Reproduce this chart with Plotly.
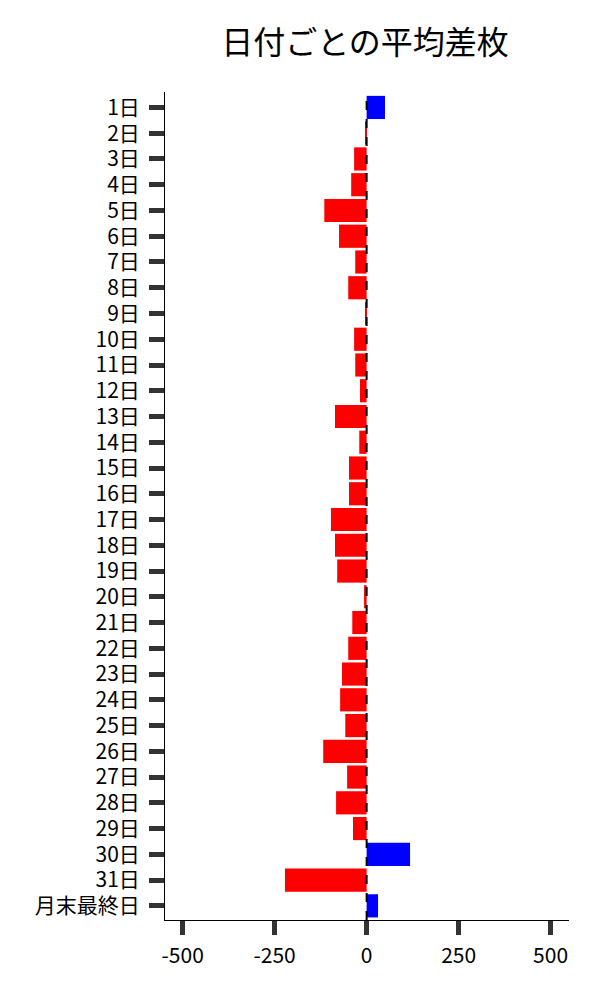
import plotly.graph_objects as go

days = [f"{i}日" for i in range(1, 32)] + ["月末最終日"]
avg_diff = [50, -2, -34, -42, -115, -75, -31, -50, -3, -34,
            -31, -18, -86, -20, -48, -48, -97, -86, -80, -7,
            -39, -50, -67, -72, -58, -118, -53, -83, -37, 118,
            -222, 31]
x_ticks = [-500, -250, 0, 250, 500]

colors = ["#0000ff" if v > 0 else "#ff0000" for v in avg_diff]

fig = go.Figure(go.Bar(
    x=avg_diff, y=days, orientation="h",
    marker=dict(color=colors, line=dict(width=0)),
    showlegend=False,
))

# dashed zero line
fig.add_shape(type="line", xref="x", yref="paper", x0=0, x1=0, y0=0, y1=1,
              line=dict(color="black", width=2, dash="dash"), layer="above")

fig.update_layout(
    width=600, height=1000,
    title=dict(text="日付ごとの平均差枚", x=0.595, xanchor="center",
               y=0.965, yanchor="middle",
               font=dict(size=32, color="black")),
    font=dict(family="Noto Sans CJK JP", size=21, color="black"),
    plot_bgcolor="white", paper_bgcolor="white",
    margin=dict(l=157, r=39, t=84, b=88),
    bargap=0.1,
)
fig.update_xaxes(range=[-548, 550], tickvals=x_ticks, ticktext=[str(v) for v in x_ticks],
                 showgrid=False, zeroline=False, showline=True, linecolor="black", linewidth=1,
                 ticks="outside", ticklen=14, tickwidth=5, tickcolor="#333333",
                 ticklabelstandoff=3)
fig.update_yaxes(range=[31.55, -0.6], showgrid=False, zeroline=False,
                 showline=True, linecolor="black", linewidth=1,
                 ticks="outside", ticklen=15, tickwidth=5, tickcolor="#333333",
                 ticklabelstandoff=5)

fig.write_html("out.html")
